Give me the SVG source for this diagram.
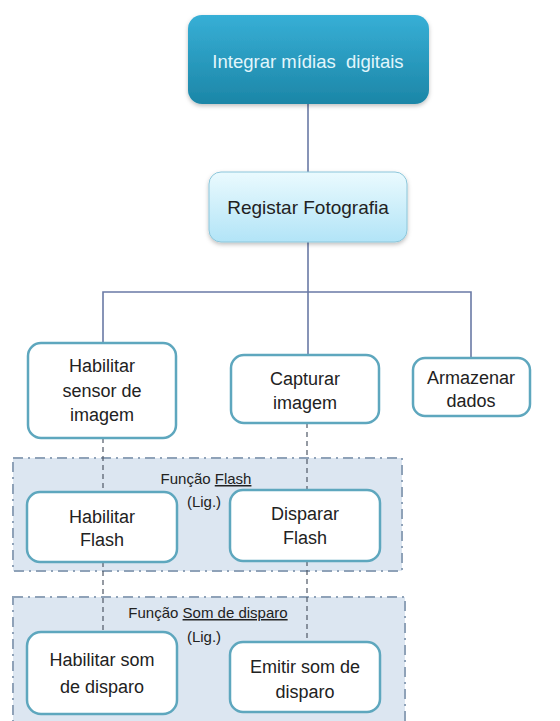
<svg xmlns="http://www.w3.org/2000/svg" width="560" height="721" viewBox="0 0 560 721">
  <defs>
    <linearGradient id="gradTop" x1="0" y1="0" x2="0" y2="1">
      <stop offset="0" stop-color="#37afd6"/>
      <stop offset="1" stop-color="#1c86a7"/>
    </linearGradient>
    <linearGradient id="gradSub" x1="0" y1="0" x2="0" y2="1">
      <stop offset="0" stop-color="#eafafe"/>
      <stop offset="1" stop-color="#b2e4f7"/>
    </linearGradient>
    <filter id="shadow" x="-10%" y="-10%" width="120%" height="130%">
      <feDropShadow dx="0" dy="2" stdDeviation="2" flood-color="#000" flood-opacity="0.25"/>
    </filter>
  </defs>
  <style>
    text { font-family: "Liberation Sans", Arial, sans-serif; fill: #222222; text-anchor: middle; }
    .box { fill: #ffffff; stroke: #5ea7be; stroke-width: 2.5; }
    .frame { fill: #dce6f1; stroke: #8fa2b8; stroke-width: 2; stroke-dasharray: 10 5 2 5; }
    .solid { fill: none; stroke: #6a7aa6; stroke-width: 1.6; }
    .dash { fill: none; stroke: #4f5866; stroke-width: 1.2; stroke-dasharray: 5 4; }
    .lbl { font-size: 18px; }
    .cap { font-size: 15px; }
    .u { text-decoration: underline; }
  </style>

  <!-- function frames (background) -->
  <g id="frame-flash">
    <rect class="frame" x="13" y="458" width="389" height="113"/>
    <text class="cap" x="206" y="484">Função <tspan class="u">Flash</tspan></text>
    <text class="cap" x="204" y="507">(Lig.)</text>
  </g>
  <g id="frame-som">
    <rect class="frame" x="13" y="597" width="392" height="140"/>
    <text class="cap" x="208" y="618" xml:space="preserve">Função <tspan class="u">Som de disparo</tspan></text>
    <text class="cap" x="204" y="642">(Lig.)</text>
  </g>

  <!-- connectors -->
  <g id="connectors">
    <path class="solid" d="M308 104 V173 M308 242 V355 M103 343 V292 H471 V358"/>
    <path class="dash" d="M103 438 V492 M103 562 V632 M307 423 V490 M307 561 V642"/>
  </g>

  <!-- nodes -->
  <g id="integrar">
    <rect x="188" y="15" width="241" height="89" rx="14" fill="url(#gradTop)" filter="url(#shadow)"/>
    <text x="308" y="68" font-size="18.5" style="fill:#e2f6fc" xml:space="preserve">Integrar mídias  digitais</text>
  </g>
  <g id="registar">
    <rect x="209" y="172" width="198" height="70" rx="12" fill="url(#gradSub)" stroke="#8cc6da" stroke-width="1" filter="url(#shadow)"/>
    <text x="308" y="214" font-size="19">Registar Fotografia</text>
  </g>
  <g id="habilitar-sensor">
    <rect class="box" x="28" y="343" width="148" height="95" rx="13"/>
    <text class="lbl" x="102" y="372">Habilitar</text>
    <text class="lbl" x="102" y="397">sensor de</text>
    <text class="lbl" x="102" y="421">imagem</text>
  </g>
  <g id="capturar">
    <rect class="box" x="231" y="355" width="148" height="68" rx="13"/>
    <text class="lbl" x="305" y="385">Capturar</text>
    <text class="lbl" x="305" y="409">imagem</text>
  </g>
  <g id="armazenar">
    <rect class="box" x="413" y="358" width="117" height="58" rx="12"/>
    <text class="lbl" x="471" y="384">Armazenar</text>
    <text class="lbl" x="471" y="407">dados</text>
  </g>
  <g id="habilitar-flash">
    <rect class="box" x="27" y="492" width="150" height="70" rx="13"/>
    <text class="lbl" x="102" y="523">Habilitar</text>
    <text class="lbl" x="102" y="546">Flash</text>
  </g>
  <g id="disparar-flash">
    <rect class="box" x="230" y="490" width="150" height="71" rx="13"/>
    <text class="lbl" x="305" y="520">Disparar</text>
    <text class="lbl" x="305" y="544">Flash</text>
  </g>
  <g id="habilitar-som">
    <rect class="box" x="27" y="632" width="150" height="82" rx="14"/>
    <text class="lbl" x="102" y="666">Habilitar som</text>
    <text class="lbl" x="102" y="693">de disparo</text>
  </g>
  <g id="emitir-som">
    <rect class="box" x="230" y="642" width="150" height="70" rx="13"/>
    <text class="lbl" x="305" y="673">Emitir som de</text>
    <text class="lbl" x="305" y="698">disparo</text>
  </g>
</svg>
